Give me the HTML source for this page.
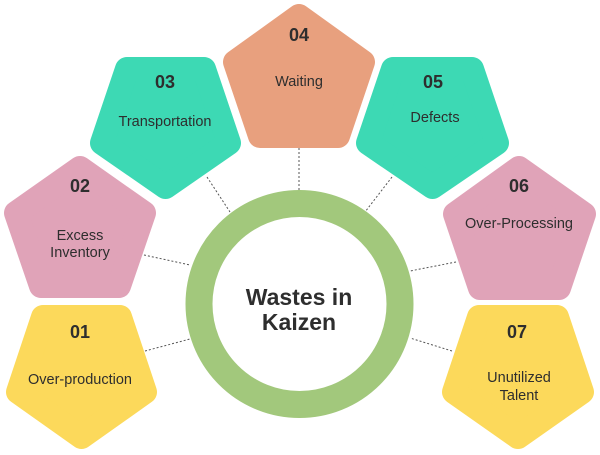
<!DOCTYPE html>
<html><head><meta charset="utf-8"><style>
html,body{margin:0;padding:0;background:#fff;}
svg{display:block;}
text{font-family:"Liberation Sans",sans-serif;fill:#2e2e2e;text-anchor:middle;}
.n{font-size:18px;font-weight:bold;}
.l{font-size:14.5px;}
</style></head><body>
<svg width="600" height="455" viewBox="0 0 600 455">
<g stroke="#555" stroke-width="1" stroke-dasharray="2,2" fill="none">
<line x1="299" y1="148" x2="299" y2="190"/>
<line x1="207" y1="177" x2="230" y2="212"/>
<line x1="392" y1="177" x2="365" y2="212"/>
<line x1="144" y1="255" x2="190" y2="265"/>
<line x1="456" y1="262" x2="410" y2="271"/>
<line x1="145" y1="351" x2="190" y2="339"/>
<line x1="452" y1="351" x2="410" y2="338"/>
</g>
<g stroke-linejoin="round" stroke-width="24">
<polygon points="299,16 363,62 338,136 260,136 235,62" fill="#e8a07e" stroke="#e8a07e"/>
<polygon points="80,168 144,213 119,286 41,286 16,213" fill="#e0a3b8" stroke="#e0a3b8"/>
<polygon points="519,168 584,214 559,288 480,288 455,214" fill="#e0a3b8" stroke="#e0a3b8"/>
<polygon points="127,69 204,69 229,143 165.5,187 102,143" fill="#3dd9b4" stroke="#3dd9b4"/>
<polygon points="393,69 472,69 497,143 432.5,187 368,143" fill="#3dd9b4" stroke="#3dd9b4"/>
<polygon points="43,317 120,317 145,392 81.5,437 18,392" fill="#fcd95b" stroke="#fcd95b"/>
<polygon points="479,317 557,317 582,392 518,437 454,392" fill="#fcd95b" stroke="#fcd95b"/>
</g>
<circle cx="299.5" cy="304" r="100.5" fill="#fff" stroke="#a2c87c" stroke-width="27"/>
<text class="n" x="299" y="41">04</text><text class="l" x="299" y="86">Waiting</text>
<text class="n" x="165" y="88">03</text><text class="l" x="165" y="126">Transportation</text>
<text class="n" x="433" y="88">05</text><text class="l" x="435" y="122">Defects</text>
<text class="n" x="80" y="192">02</text><text class="l" x="80" y="240">Excess</text><text class="l" x="80" y="257">Inventory</text>
<text class="n" x="519" y="192">06</text><text class="l" x="519" y="228">Over-Processing</text>
<text class="n" x="80" y="338">01</text><text class="l" x="80" y="384">Over-production</text>
<text class="n" x="517" y="338">07</text><text class="l" x="519" y="382">Unutilized</text><text class="l" x="519" y="400">Talent</text>
<text x="299" y="305" style="font-size:23px;font-weight:bold">Wastes in</text>
<text x="299" y="330" style="font-size:23px;font-weight:bold">Kaizen</text>
</svg>
</body></html>
